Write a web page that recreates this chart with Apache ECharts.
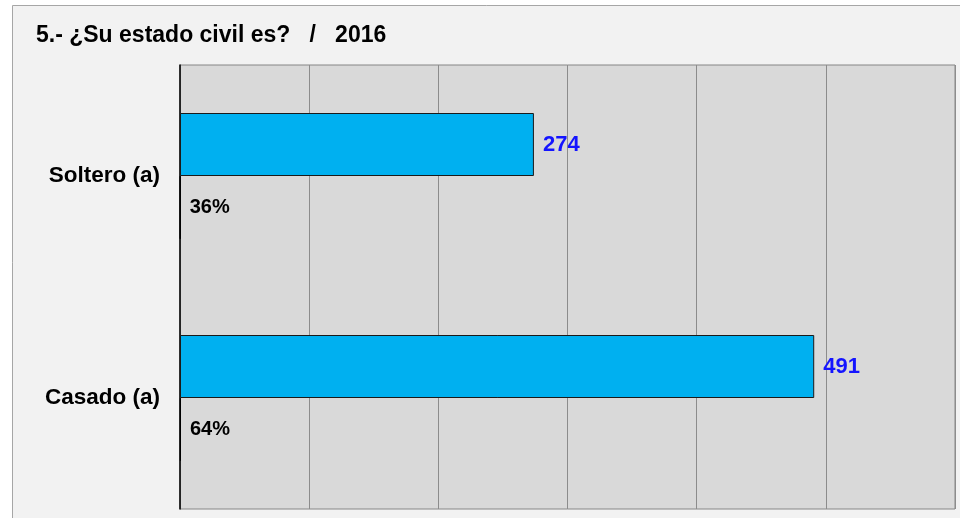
<!DOCTYPE html>
<html>
<head>
<meta charset="utf-8">
<title>Estado civil 2016</title>
<script src="https://cdn.jsdelivr.net/npm/echarts@6/dist/echarts.min.js"></script>
<style>
  html, body { margin: 0; padding: 0; background: #fff; }
  #chart { width: 960px; height: 518px; }
</style>
</head>
<body>
<div id="chart"></div>
<script>
// datos
const categories = ['Soltero (a)', 'Casado (a)'];
const counts = [274, 491];
const percents = [0.36, 0.64];
const xTicks = [0, 100, 200, 300, 400, 500, 600];

const chart = echarts.init(document.getElementById('chart'));

const option = {
  animation: false,
  backgroundColor: '#ffffff',
  textStyle: { fontFamily: '"Liberation Sans", Arial, sans-serif' },
  // marco exterior
  graphic: [
    {
      type: 'rect',
      z: -10,
      shape: { x: 12.5, y: 5.5, width: 960, height: 520 },
      style: { fill: '#f2f2f2', stroke: '#a6a6a6', lineWidth: 1 }
    }
  ],
  title: {
    text: '5.- ¿Su estado civil es?   /   2016',
    left: 31,
    top: 19,
    textStyle: { fontSize: 23, fontWeight: 'bold', color: '#000' }
  },
  grid: {
    left: 180,
    top: 65,
    right: 5,
    bottom: 9,
    show: true,
    backgroundColor: '#d9d9d9',
    borderColor: '#868686',
    borderWidth: 1
  },
  xAxis: {
    type: 'value',
    min: xTicks[0],
    max: xTicks[xTicks.length - 1],
    interval: 100,
    axisLine: { show: false },
    axisTick: { show: false },
    axisLabel: { show: false },
    splitLine: { lineStyle: { color: '#8c8c8c', width: 1 } }
  },
  yAxis: {
    type: 'category',
    inverse: true,
    data: categories,
    axisLine: { lineStyle: { color: '#000', width: 1.5 } },
    axisTick: { length: 7, lineStyle: { color: '#868686' } },
    axisLabel: {
      margin: 20,
      fontSize: 22.5,
      fontWeight: 'bold',
      color: '#000'
    }
  },
  series: [
    {
      name: 'Cantidad',
      type: 'bar',
      data: counts,
      barWidth: 63,
      barGap: '0%',
      itemStyle: { color: '#00b0f0', borderColor: '#1a1a1a', borderWidth: 1 },
      label: {
        show: true,
        position: 'right',
        distance: 9,
        fontSize: 22,
        fontWeight: 'bold',
        color: '#1414ff'
      }
    },
    {
      name: 'Porcentaje',
      type: 'bar',
      data: percents,
      barWidth: 63,
      barGap: '0%',
      itemStyle: { color: '#000', borderColor: '#000', borderWidth: 1 },
      label: {
        show: true,
        position: 'right',
        distance: 9,
        fontSize: 20,
        fontWeight: 'bold',
        color: '#000',
        formatter: p => Math.round(p.value * 100) + '%'
      }
    }
  ]
};

chart.setOption(option);
</script>
</body>
</html>
